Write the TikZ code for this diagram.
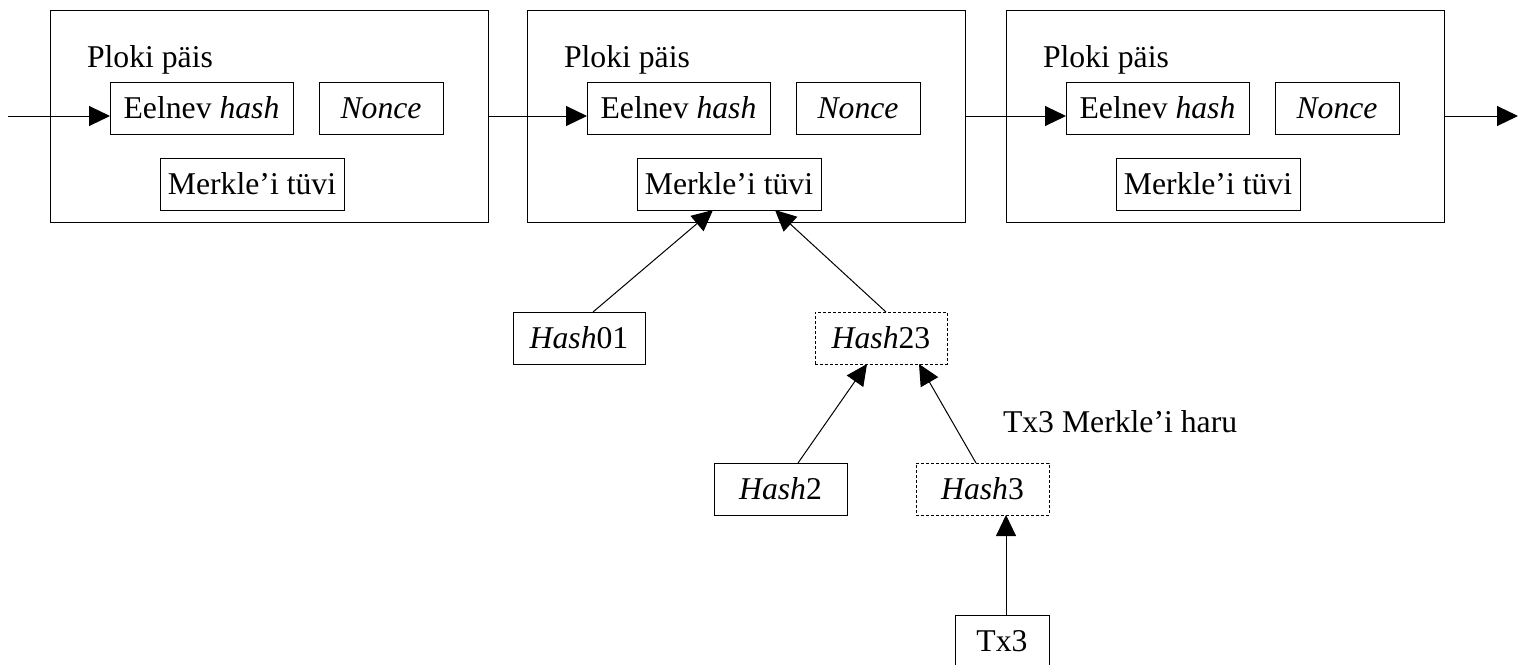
\documentclass[tikz,border=0pt]{standalone}
\usepackage{fontspec}
\setmainfont{Liberation Serif}
\usetikzlibrary{arrows.meta,calc}
\begin{document}
\begin{tikzpicture}[x=1pt,y=-1pt,
  font=\fontsize{31.7}{36}\selectfont,
  every node/.style={inner sep=0pt,outer sep=0pt},
  blockbox/.style={draw,line width=1pt,minimum width=438pt,minimum height=212pt},
  fieldbox/.style={draw,line width=1pt,minimum height=52pt},
  pathbox/.style={fieldbox,dash pattern=on 3pt off 2pt},
  link/.style={line width=1pt,-{Triangle[length=21pt,width=20pt]}}]
\useasboundingbox (0,0) rectangle (1518,664);

% three block headers
\foreach \i/\dx in {1/0,2/477,3/956}{
  \node[blockbox] (blk\i) at (269+\dx,116) {};
  \node[anchor=base west] (title\i) at (87+\dx,67) {Ploki päis};
  \node[fieldbox,minimum width=183pt] (eel\i) at (201.5+\dx,108) {Eelnev \textit{hash}};
  \node[fieldbox,minimum width=124pt] (non\i) at (381+\dx,108) {\textit{Nonce}};
  \node[fieldbox,minimum width=184pt] (mk\i) at (252+\dx,184) {Merkle’i tüvi};
}

% chain links
\coordinate (in) at (8,116);
\coordinate (out) at (1518,116);
\draw[link] (in) -- (eel1.west |- blk1.east);
\draw[link] (blk1.east) -- (eel2.west |- blk1.east);
\draw[link] (blk2.east) -- (eel3.west |- blk2.east);
\draw[link] (blk3.east) -- (out);

% Merkle branch for Tx3
\node[fieldbox,minimum width=132pt] (h01) at (579,338) {\textit{Hash}01};
\node[pathbox,minimum width=132pt] (h23) at (881,338) {\textit{Hash}23};
\node[fieldbox,minimum width=133pt] (h2) at (780.5,489) {\textit{Hash}2};
\node[pathbox,minimum width=133pt] (h3) at (982.5,489) {\textit{Hash}3};
\node[fieldbox,minimum width=94pt,minimum height=52pt] (tx3) at (1002,641) {Tx3};
\node[anchor=base west] (branch) at (1003,432) {Tx3 Merkle’i haru};

\draw[link] ([xshift=14pt]h01.north) -- ([xshift=-16pt]mk2.south);
\draw[link] ([xshift=5pt]h23.north) -- ([xshift=46pt]mk2.south);
\draw[link] ([xshift=17.5pt]h2.north) -- ([xshift=-14pt]h23.south);
\draw[link] ([xshift=-6.5pt]h3.north) -- ([xshift=38pt]h23.south);
\draw[link] ([xshift=4pt]tx3.north) -- ([xshift=23.5pt]h3.south);
\end{tikzpicture}
\end{document}
